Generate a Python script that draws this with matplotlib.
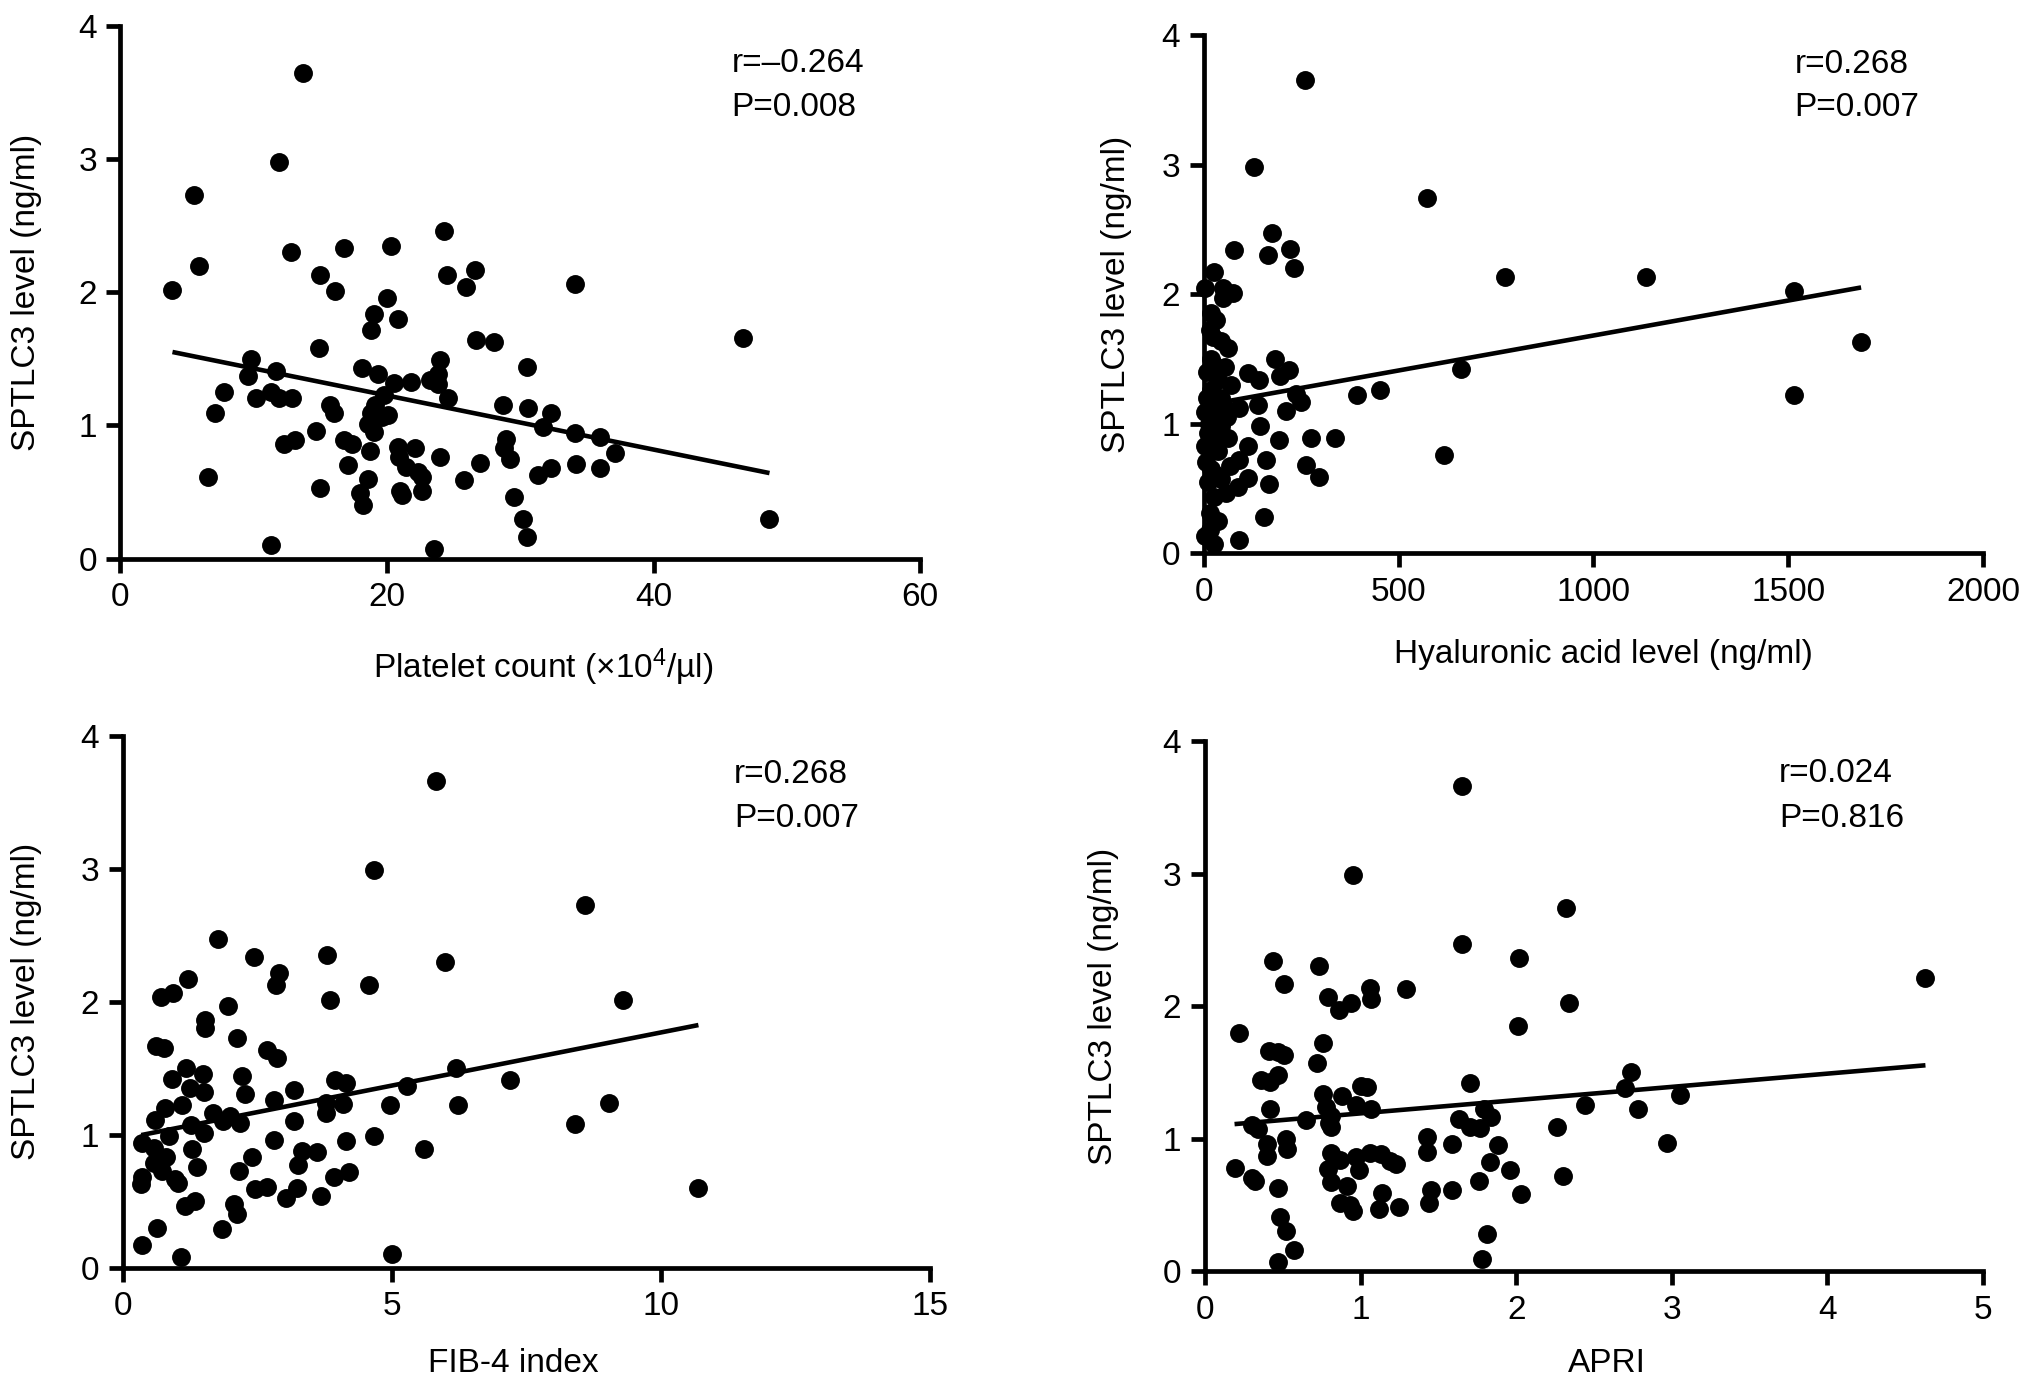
import numpy as np
import matplotlib
matplotlib.use("Agg")
import matplotlib.pyplot as plt

plt.rcParams['font.family'] = ['Liberation Sans', 'DejaVu Sans']
plt.rcParams['mathtext.fontset'] = 'custom'
plt.rcParams['mathtext.rm'] = 'Liberation Sans'
plt.rcParams['mathtext.it'] = 'Liberation Sans:italic'

# SPTLC3 level (ng/ml) vs. each marker
platelet_x = [13.7, 11.9, 5.5, 5.9, 3.9, 12.8, 15.0, 16.8, 16.1, 20.3, 20.0, 19.0, 18.8, 20.8,
              24.3, 24.5, 26.6, 25.9, 34.1, 46.7, 26.7, 28.0, 14.9, 9.8, 9.6, 11.7, 18.1, 19.3,
              20.5, 21.8, 23.2, 24.0, 23.8, 23.8, 24.6, 30.5, 7.8, 7.1, 10.2, 11.3, 11.9, 12.9,
              12.3, 13.1, 6.6, 14.7, 15.7, 16.0, 16.8, 17.4, 17.1, 19.8, 19.1, 18.8, 18.6, 19.0,
              20.1, 19.6, 18.7, 20.8, 20.9, 21.4, 22.1, 22.3, 22.6, 22.6, 21.0, 21.1, 18.6, 18.0,
              18.2, 15.0, 11.3, 23.5, 24.0, 25.8, 27.0, 28.7, 28.9, 28.8, 29.2, 29.5, 30.2, 30.5,
              30.6, 31.7, 32.3, 31.3, 32.3, 34.1, 34.2, 36.0, 36.0, 37.1, 48.7]
platelet_y = [3.65, 2.98, 2.73, 2.20, 2.02, 2.30, 2.13, 2.33, 2.01, 2.35, 1.96, 1.84, 1.72, 1.80,
              2.46, 2.13, 2.17, 2.04, 2.06, 1.66, 1.64, 1.63, 1.58, 1.50, 1.37, 1.41, 1.43, 1.39,
              1.32, 1.33, 1.34, 1.49, 1.39, 1.31, 1.21, 1.44, 1.25, 1.09, 1.21, 1.25, 1.21, 1.21,
              0.86, 0.89, 0.61, 0.96, 1.15, 1.09, 0.89, 0.86, 0.70, 1.23, 1.15, 1.09, 1.01, 0.95,
              1.08, 1.06, 0.81, 0.84, 0.76, 0.69, 0.83, 0.65, 0.61, 0.51, 0.51, 0.48, 0.60, 0.49,
              0.40, 0.53, 0.10, 0.07, 0.76, 0.59, 0.72, 1.15, 0.90, 0.83, 0.75, 0.46, 0.30, 0.16,
              1.13, 0.99, 1.09, 0.63, 0.68, 0.94, 0.71, 0.91, 0.68, 0.79, 0.30]

ha_x = [259, 129, 572, 174, 76, 165, 221, 232, 773, 25, 3, 49, 74, 50, 19, 32, 15, 23, 44, 61,
        19, 27, 53, 183, 112, 142, 195, 219, 36, 70, 17, 236, 250, 394, 451, 660, 32, 2, 53, 91,
        140, 210, 145, 19, 44, 10, 61, 193, 274, 336, 615, 2, 112, 36, 159, 261, 296, 91, 66, 19,
        112, 44, 168, 87, 57, 27, 15, 155, 15, 27, 91, 2, 1135, 1514, 1514, 1687,
        8, 12, 25, 5, 30, 40, 10, 30, 60, 8, 45, 35]
ha_y = [3.65, 2.98, 2.74, 2.47, 2.34, 2.30, 2.35, 2.20, 2.13, 2.17, 2.05, 2.05, 2.01, 1.97, 1.85,
        1.80, 1.72, 1.67, 1.64, 1.58, 1.50, 1.45, 1.44, 1.50, 1.39, 1.34, 1.37, 1.41, 1.34, 1.30,
        1.26, 1.23, 1.17, 1.22, 1.26, 1.42, 1.17, 1.09, 1.12, 1.12, 1.14, 1.10, 0.98, 1.04, 0.98,
        0.93, 0.89, 0.87, 0.89, 0.89, 0.76, 0.83, 0.83, 0.79, 0.72, 0.68, 0.59, 0.72, 0.67, 0.65,
        0.58, 0.57, 0.53, 0.51, 0.46, 0.43, 0.31, 0.28, 0.18, 0.07, 0.10, 0.13, 2.13, 2.02, 1.22,
        1.63, 1.20, 1.00, 0.88, 0.70, 1.10, 0.90, 0.55, 0.60, 1.05, 1.40, 1.20, 0.25]

fib4_x = [5.81, 4.67, 1.77, 2.44, 3.79, 2.90, 2.85, 5.98, 4.57, 3.85, 1.20, 0.93, 0.70, 1.96,
          1.52, 1.52, 2.11, 0.61, 0.76, 2.68, 2.87, 1.17, 1.49, 0.91, 2.21, 1.24, 1.51, 2.27,
          3.17, 3.93, 4.14, 6.19, 5.28, 7.19, 0.78, 1.10, 0.60, 2.81, 3.78, 4.09, 4.97, 6.23,
          3.78, 1.68, 1.85, 1.99, 2.18, 1.27, 1.51, 3.17, 0.35, 0.85, 2.81, 4.14, 4.67, 0.58,
          1.28, 3.32, 3.61, 5.60, 0.80, 0.58, 2.40, 1.37, 0.73, 2.15, 3.26, 0.35, 0.34, 0.96,
          1.02, 3.92, 4.20, 2.45, 2.68, 3.23, 3.03, 3.68, 1.33, 1.16, 2.06, 2.11, 0.63, 1.84,
          0.36, 1.08, 5.00, 8.58, 9.28, 9.02, 8.40, 10.69]
fib4_y = [3.66, 2.99, 2.47, 2.34, 2.35, 2.22, 2.13, 2.30, 2.13, 2.01, 2.17, 2.07, 2.04, 1.97,
          1.86, 1.80, 1.73, 1.67, 1.65, 1.64, 1.58, 1.50, 1.46, 1.42, 1.44, 1.35, 1.32, 1.31,
          1.34, 1.41, 1.39, 1.50, 1.37, 1.41, 1.20, 1.22, 1.11, 1.26, 1.24, 1.23, 1.22, 1.22,
          1.16, 1.16, 1.10, 1.14, 1.09, 1.07, 1.01, 1.10, 0.94, 0.99, 0.96, 0.95, 0.99, 0.90,
          0.89, 0.88, 0.87, 0.89, 0.83, 0.79, 0.83, 0.76, 0.73, 0.73, 0.77, 0.68, 0.63, 0.67,
          0.64, 0.68, 0.72, 0.59, 0.61, 0.60, 0.52, 0.54, 0.50, 0.46, 0.48, 0.40, 0.30, 0.29,
          0.17, 0.08, 0.10, 2.73, 2.01, 1.24, 1.08, 0.60]

apri_x = [1.65, 0.95, 2.32, 1.65, 0.44, 0.73, 2.02, 0.51, 1.06, 1.07, 1.29, 0.79, 0.86, 0.94,
          2.34, 2.01, 0.22, 0.76, 0.41, 0.47, 0.51, 0.72, 0.47, 0.36, 0.42, 1.00, 1.04, 1.70,
          2.74, 2.70, 0.76, 0.88, 0.42, 0.97, 1.07, 0.78, 0.81, 2.44, 2.78, 0.65, 0.30, 0.34,
          0.80, 0.81, 1.63, 1.70, 1.77, 1.79, 1.84, 2.26, 0.52, 0.40, 0.53, 0.40, 1.43, 1.43,
          1.59, 1.88, 0.19, 0.81, 0.87, 0.97, 1.06, 1.13, 1.19, 1.23, 0.99, 0.79, 0.81, 1.83,
          1.96, 2.30, 0.30, 0.32, 0.47, 1.76, 0.91, 1.14, 1.45, 1.59, 2.03, 0.87, 0.93, 0.95,
          1.12, 1.25, 1.44, 0.48, 0.52, 0.57, 0.47, 1.81, 1.78, 3.05, 2.97, 4.63]
apri_y = [3.66, 2.99, 2.74, 2.47, 2.34, 2.30, 2.36, 2.17, 2.14, 2.05, 2.13, 2.07, 1.97, 2.02,
          2.02, 1.85, 1.80, 1.72, 1.66, 1.65, 1.63, 1.57, 1.48, 1.44, 1.43, 1.40, 1.39, 1.42,
          1.50, 1.38, 1.34, 1.32, 1.22, 1.25, 1.22, 1.24, 1.17, 1.25, 1.22, 1.14, 1.10, 1.07,
          1.12, 1.09, 1.15, 1.09, 1.08, 1.22, 1.16, 1.09, 1.00, 0.96, 0.92, 0.87, 1.01, 0.90,
          0.96, 0.95, 0.78, 0.89, 0.84, 0.86, 0.89, 0.88, 0.83, 0.81, 0.76, 0.77, 0.67, 0.82,
          0.76, 0.72, 0.70, 0.68, 0.63, 0.68, 0.64, 0.59, 0.61, 0.61, 0.58, 0.51, 0.50, 0.45,
          0.47, 0.48, 0.51, 0.41, 0.30, 0.16, 0.07, 0.28, 0.09, 1.33, 0.97, 2.21]

# regression lines (intercept, slope)
fit_lines = [(1.631, -0.0203), (1.14, 0.00054), (0.97, 0.080), (1.09, 0.100)]
stats = [("r=\u20130.264", "P=0.008"), ("r=0.268", "P=0.007"),
         ("r=0.268", "P=0.007"), ("r=0.024", "P=0.816")]
xlabels = ["Platelet count (\u00d710$^{4}$/\u00b5l)", "Hyaluronic acid level (ng/ml)",
           "FIB-4 index", "APRI"]
xticks = [[0, 20, 40, 60], [0, 500, 1000, 1500, 2000], [0, 5, 10, 15], [0, 1, 2, 3, 4, 5]]
ylabel = "SPTLC3 level (ng/ml)"

panels = [(platelet_x, platelet_y), (ha_x, ha_y), (fib4_x, fib4_y), (apri_x, apri_y)]
rects = [[0.0593, 0.5987, 0.3935, 0.3826], [0.5925, 0.6027, 0.3834, 0.3721],
         [0.0605, 0.0894, 0.3974, 0.3818], [0.5930, 0.0869, 0.3829, 0.3807]]
stat_pos = [(0.764, 0.929, 0.847), (0.758, 0.944, 0.861),
            (0.757, 0.928, 0.845), (0.738, 0.938, 0.854)]
ylab_x = [-0.118, -0.112, -0.120, -0.130]
xlab_pos = [(0.529, -0.2035), (0.513, -0.196), (0.484, -0.180), (0.516, -0.174)]

fs = 24
fig = plt.figure(figsize=(20.32, 13.92), dpi=100)
for i, (xs, ys) in enumerate(panels):
    ax = fig.add_axes(rects[i])
    ax.scatter(xs, ys, s=185, color='black', linewidths=0, clip_on=False, zorder=3)
    b, m = fit_lines[i]
    x0, x1 = min(xs), max(xs)
    ax.plot([x0, x1], [b + m * x0, b + m * x1], color='black', lw=3.3, zorder=4,
            solid_capstyle='butt')

    ax.set_xlim(xticks[i][0], xticks[i][-1])
    ax.set_ylim(0, 4)
    ax.set_xticks(xticks[i])
    ax.set_yticks([0, 1, 2, 3, 4])
    for side in ['top', 'right']:
        ax.spines[side].set_visible(False)
    for side in ['left', 'bottom']:
        ax.spines[side].set_linewidth(3.4)
    ax.tick_params(direction='out', length=10, width=3.4, labelsize=fs, pad=7)

    ax.set_xlabel(xlabels[i], fontsize=fs, va='center')
    ax.xaxis.set_label_coords(*xlab_pos[i])
    ax.set_ylabel(ylabel, fontsize=fs, va='center')
    ax.yaxis.set_label_coords(ylab_x[i], 0.5)

    sx, sy1, sy2 = stat_pos[i]
    ax.text(sx, sy1, stats[i][0], transform=ax.transAxes, fontsize=fs, va='center')
    ax.text(sx, sy2, stats[i][1], transform=ax.transAxes, fontsize=fs, va='center')

fig.savefig("out.png", dpi=100, facecolor='white')
